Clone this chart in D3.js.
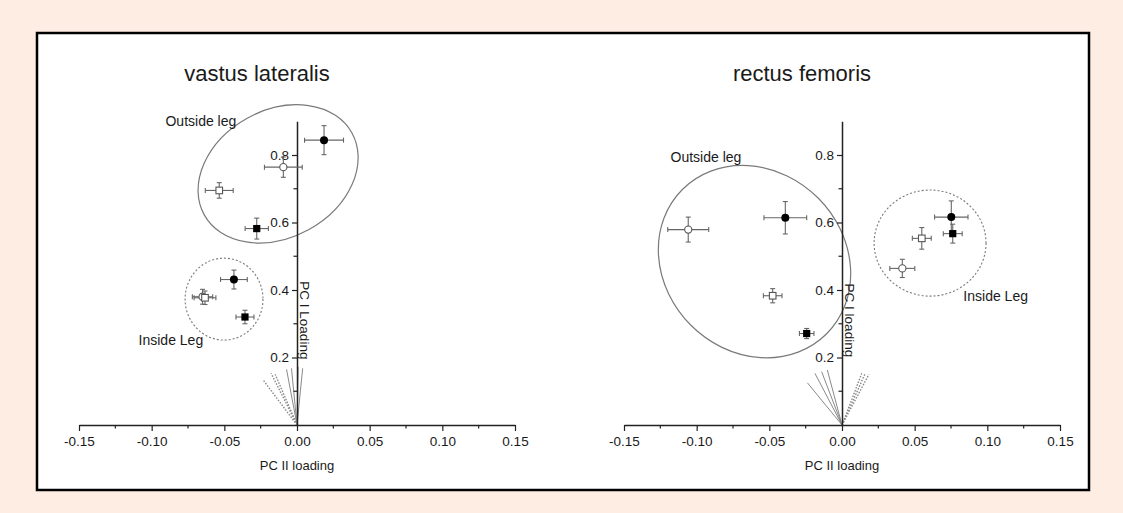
<!DOCTYPE html>
<html><head><meta charset="utf-8">
<script src="https://cdn.jsdelivr.net/npm/d3@7"></script>
<style>
html,body{margin:0;padding:0;background:#fdede3;}
svg{display:block;font-family:"Liberation Sans",Arial,sans-serif;}
</style></head>
<body>
<svg id="c" width="1123" height="513"></svg>
<script>
// ---------- DATA ----------
const panelTitles = ["vastus lateralis", "rectus femoris"];
const yAxisLabels = ["PC I Loading", "PC I loading"];
const xAxisLabel = "PC II loading";
const xTickValues = [-0.15, -0.10, -0.05, 0.00, 0.05, 0.10, 0.15];
const xMinorTicks = [-0.125, -0.075, -0.025, 0.025, 0.075, 0.125];
const yTickValues = [0.2, 0.4, 0.6, 0.8];
const yMinorTicks = [0.1, 0.3, 0.5, 0.7];

// points: [x, y, xErr, yErr, marker]  (fc filled circle, fs filled square, oc open circle, os open square)
const vastusPoints = [
  [0.0186, 0.844, 0.0134, 0.043, "fc"],
  [-0.0094, 0.764, 0.0130, 0.030, "oc"],
  [-0.0535, 0.695, 0.0096, 0.023, "os"],
  [-0.0277, 0.582, 0.0080, 0.031, "fs"],
  [-0.0434, 0.431, 0.0092, 0.028, "fc"],
  [-0.0358, 0.320, 0.0062, 0.020, "fs"],
  [-0.0650, 0.380, 0.0070, 0.022, "oc"],
  [-0.0633, 0.377, 0.0075, 0.020, "os"]
];
const rectusPoints = [
  [-0.1058, 0.579, 0.0141, 0.037, "oc"],
  [-0.0390, 0.614, 0.0147, 0.048, "fc"],
  [-0.0477, 0.383, 0.0064, 0.021, "os"],
  [-0.0243, 0.271, 0.0050, 0.015, "fs"],
  [0.0752, 0.616, 0.0115, 0.048, "fc"],
  [0.0762, 0.567, 0.0065, 0.028, "fs"],
  [0.0549, 0.553, 0.0065, 0.032, "os"],
  [0.0415, 0.464, 0.0086, 0.027, "oc"]
];
// loading vectors from origin: [x, y, style]
const vastusVectors = [
  [-0.0072, 0.165, "solid"], [-0.0038, 0.168, "solid"], [0.0008, 0.172, "solid"], [0.0039, 0.168, "solid"],
  [-0.0234, 0.134, "dot"], [-0.0178, 0.153, "dot"], [-0.0150, 0.150, "dot"]
];
const rectusVectors = [
  [-0.0238, 0.125, "solid"], [-0.0186, 0.153, "solid"], [-0.0140, 0.158, "solid"], [-0.0101, 0.163, "solid"],
  [0.0136, 0.153, "dot"], [0.0160, 0.153, "dot"], [0.0185, 0.150, "dot"]
];
// group ellipses: [cx, cy, rx, ry (in x-units), rotation deg, style]
const vastusGroups = [
  [-0.0130, 0.744, 0.0581, 0.0438, -29, "solid"],
  [-0.0502, 0.373, 0.0268, 0.0282, 0, "dot"]
];
const rectusGroups = [
  [-0.0602, 0.484, 0.0702, 0.0619, 45, "solid"],
  [0.0606, 0.539, 0.0385, 0.0365, 0, "dot"]
];
// group labels: [text, x, y]
const vastusLabels = [["Outside leg", -0.0905, 0.885], ["Inside Leg", -0.1090, 0.237]];
const rectusLabels = [["Outside leg", -0.1180, 0.780], ["Inside Leg", 0.0835, 0.367]];

// ---------- DRAW ----------
const svg = d3.select("#c");
svg.append("rect").attr("x", 37).attr("y", 33).attr("width", 1052).attr("height", 457)
  .attr("fill", "#fff").attr("stroke", "#000").attr("stroke-width", 2.5);

const panels = [
  {title: panelTitles[0], ylab: yAxisLabels[0], pts: vastusPoints, vec: vastusVectors, grp: vastusGroups, lab: vastusLabels, x0: 79, x1: 515, tx: 257},
  {title: panelTitles[1], ylab: yAxisLabels[1], pts: rectusPoints, vec: rectusVectors, grp: rectusGroups, lab: rectusLabels, x0: 624, x1: 1060, tx: 802}
];
const textCol = "#1a1a1a";

panels.forEach(p => {
  const x = d3.scaleLinear().domain([-0.15, 0.15]).range([p.x0, p.x1]);
  const y = d3.scaleLinear().domain([0, 0.9]).range([425, 121.25]);
  const g = svg.append("g");
  const kx = v => Math.abs(x(v) - x(0));

  // title
  g.append("text").attr("x", p.tx).attr("y", 81).attr("text-anchor", "middle")
    .attr("font-size", 22).attr("fill", textCol).text(p.title);

  // group ellipses
  p.grp.forEach(e => {
    g.append("ellipse")
      .attr("transform", `translate(${x(e[0])},${y(e[1])}) rotate(${e[4]})`)
      .attr("rx", kx(e[2])).attr("ry", kx(e[3]))
      .attr("fill", "none").attr("stroke", "#7a7a7a")
      .attr("stroke-width", e[5] === "dot" ? 1.1 : 1.2)
      .attr("stroke-dasharray", e[5] === "dot" ? "2,2" : null);
  });

  // loading vectors
  p.vec.forEach(v => {
    g.append("line").attr("x1", x(0)).attr("y1", y(0)).attr("x2", x(v[0])).attr("y2", y(v[1]))
      .attr("stroke", "#8a8a8a").attr("stroke-width", v[2] === "dot" ? 1.4 : 1)
      .attr("stroke-dasharray", v[2] === "dot" ? "1.5,1.5" : null);
  });

  // x axis
  const xa = g.append("g").attr("transform", `translate(0,${y(0)})`)
    .call(d3.axisBottom(x).tickValues(xTickValues).tickSize(6).tickSizeOuter(0).tickPadding(5)
      .tickFormat(d => d.toFixed(2)));
  xa.selectAll("text").attr("font-size", 13.5).attr("fill", textCol).attr("font-family", "Liberation Sans, Arial, sans-serif");
  xa.selectAll("line").attr("stroke", "#222").attr("stroke-width", 1.2);
  xa.select(".domain").attr("stroke", "#222").attr("stroke-width", 1.5);
  xMinorTicks.forEach(t => {
    g.append("line").attr("x1", x(t)).attr("x2", x(t)).attr("y1", y(0)).attr("y2", y(0) + 3.5)
      .attr("stroke", "#222").attr("stroke-width", 1.2);
  });

  // y axis
  const ya = g.append("g").attr("transform", `translate(${x(0)},0)`)
    .call(d3.axisLeft(y).tickValues(yTickValues).tickSize(5).tickSizeOuter(0).tickPadding(3)
      .tickFormat(d => d.toFixed(1)));
  ya.selectAll("text").attr("font-size", 13.5).attr("fill", textCol).attr("font-family", "Liberation Sans, Arial, sans-serif");
  ya.selectAll("line").attr("stroke", "#222").attr("stroke-width", 1.2);
  ya.select(".domain").attr("stroke", "#222").attr("stroke-width", 1.5);
  yMinorTicks.forEach(t => {
    g.append("line").attr("x1", x(0) - 3.5).attr("x2", x(0)).attr("y1", y(t)).attr("y2", y(t))
      .attr("stroke", "#222").attr("stroke-width", 1.2);
  });

  // axis labels
  g.append("text").attr("x", x(0)).attr("y", 470).attr("text-anchor", "middle")
    .attr("font-size", 13).attr("fill", textCol).text(xAxisLabel);
  g.append("text").attr("transform", `translate(${x(0) + 2.5},${y(0.31)}) rotate(90)`)
    .attr("text-anchor", "middle").attr("font-size", 13.5).attr("fill", textCol).text(p.ylab);

  // group labels
  p.lab.forEach(l => {
    g.append("text").attr("x", x(l[1])).attr("y", y(l[2])).attr("font-size", 14)
      .attr("fill", textCol).text(l[0]);
  });

  // error bars
  const eb = g.append("g").attr("stroke", "#666").attr("stroke-width", 1.1).attr("fill", "none");
  p.pts.forEach(d => {
    const cx = x(d[0]), cy = y(d[1]);
    const xl = x(d[0] - d[2]), xr = x(d[0] + d[2]);
    const yt = y(d[1] + d[3]), yb = y(d[1] - d[3]);
    const c = 2.5;
    eb.append("line").attr("x1", xl).attr("x2", xr).attr("y1", cy).attr("y2", cy);
    eb.append("line").attr("x1", cx).attr("x2", cx).attr("y1", yt).attr("y2", yb);
    eb.append("line").attr("x1", xl).attr("x2", xl).attr("y1", cy - c).attr("y2", cy + c);
    eb.append("line").attr("x1", xr).attr("x2", xr).attr("y1", cy - c).attr("y2", cy + c);
    eb.append("line").attr("x1", cx - c).attr("x2", cx + c).attr("y1", yt).attr("y2", yt);
    eb.append("line").attr("x1", cx - c).attr("x2", cx + c).attr("y1", yb).attr("y2", yb);
  });

  // markers
  p.pts.forEach(d => {
    const cx = x(d[0]), cy = y(d[1]);
    if (d[4] === "fc") {
      g.append("circle").attr("cx", cx).attr("cy", cy).attr("r", 4).attr("fill", "#000");
    } else if (d[4] === "oc") {
      g.append("circle").attr("cx", cx).attr("cy", cy).attr("r", 3.6).attr("fill", "#fff")
        .attr("stroke", "#555").attr("stroke-width", 1.1);
    } else if (d[4] === "fs") {
      g.append("rect").attr("x", cx - 3.6).attr("y", cy - 3.6).attr("width", 7.2).attr("height", 7.2).attr("fill", "#000");
    } else {
      g.append("rect").attr("x", cx - 3.3).attr("y", cy - 3.3).attr("width", 6.6).attr("height", 6.6)
        .attr("fill", "#fff").attr("stroke", "#555").attr("stroke-width", 1.1);
    }
  });
});
</script>
</body></html>
